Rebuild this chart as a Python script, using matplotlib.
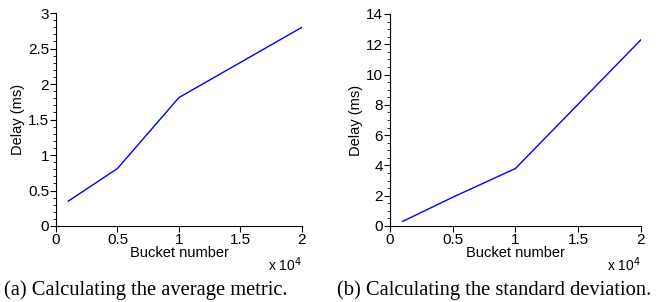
import numpy as np
import matplotlib.pyplot as plt
from matplotlib.ticker import AutoMinorLocator

buckets = [1000, 5000, 10000, 20000]
avg_delay = [0.35, 0.81, 1.81, 2.80]
std_delay = [0.3, 1.9, 3.8, 12.3]

xticks = [0, 5000, 10000, 15000, 20000]
xticklabels = ['0', '0.5', '1', '1.5', '2']
avg_yticks = [0, 0.5, 1, 1.5, 2, 2.5, 3]
avg_yticklabels = ['0', '0.5', '1', '1.5', '2', '2.5', '3']
std_yticks = [0, 2, 4, 6, 8, 10, 12, 14]

plt.rcParams['font.family'] = ['Liberation Sans', 'DejaVu Sans']

fig = plt.figure(figsize=(6.57, 3.02), dpi=100)
ax1 = fig.add_axes([0.0852, 0.2517, 0.3744, 0.705])
ax2 = fig.add_axes([0.5936, 0.2517, 0.382, 0.702])


def style(ax, ys, yticks, ylabels, ymax, minor_n):
    ax.plot(buckets, ys, color='#0000ff', lw=1)
    ax.set_xlim(0, 20000)
    ax.set_ylim(0, ymax)
    ax.set_xticks(xticks)
    ax.set_xticklabels(xticklabels)
    ax.set_yticks(yticks)
    ax.set_yticklabels(ylabels)
    ax.yaxis.set_minor_locator(AutoMinorLocator(minor_n))
    ax.spines['top'].set_visible(False)
    ax.spines['right'].set_visible(False)
    ax.tick_params(which='major', length=4, width=0.8, labelsize=11, pad=1)
    ax.tick_params(which='minor', length=2, width=0.6)
    ax.set_xlabel('Bucket number', fontsize=10.5, labelpad=-1)
    ax.set_ylabel('Delay (ms)', fontsize=10.5, labelpad=2)
    ax.text(1.0, -0.14, r'x 10$^4$', transform=ax.transAxes, fontsize=10,
            ha='right', va='top')


style(ax1, avg_delay, avg_yticks, avg_yticklabels, 3, 5)
style(ax2, std_delay, std_yticks, [str(v) for v in std_yticks], 14, 4)

fig.text(0.222, 0.008, '(a) Calculating the average metric.', fontsize=14.8,
         family='Liberation Serif', ha='center', va='bottom')
fig.text(0.752, 0.008, '(b) Calculating the standard deviation.', fontsize=14.8,
         family='Liberation Serif', ha='center', va='bottom')

plt.savefig('out.png', dpi=100)
